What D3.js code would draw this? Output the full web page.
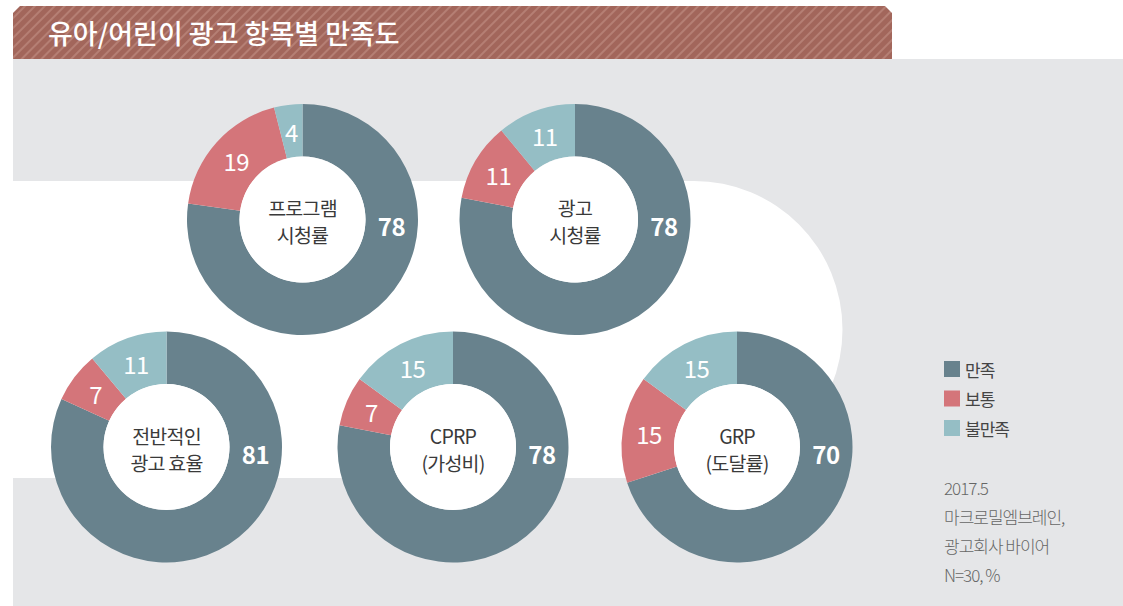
<!DOCTYPE html>
<html>
<head>
<meta charset="utf-8">
<script src="https://cdn.jsdelivr.net/npm/d3@7"></script>
<style>
  html, body { margin: 0; padding: 0; background: #fff; }
  svg { display: block; font-family: "Noto Sans CJK KR", "Noto Sans", sans-serif; }
</style>
</head>
<body>
<div id="chart"></div>
<script>
// data
const chartTitle = "유아/어린이 광고 항목별 만족도";
const categories = ["만족", "보통", "불만족"];
const itemLabels = [["프로그램", "시청률"], ["광고", "시청률"], ["전반적인", "광고 효율"], ["CPRP", "(가성비)"], ["GRP", "(도달률)"]];
const satisfied = [78, 78, 81, 78, 70];
const neutral = [19, 11, 7, 7, 15];
const dissatisfied = [4, 11, 11, 15, 15];
const notes = ["2017.5", "마크로밀엠브레인,", "광고회사 바이어", "N=30, %"];

const colors = ["#68828d", "#d4757a", "#95bec5"];

const width = 1123, height = 606;
const svg = d3.select("#chart").append("svg")
    .attr("width", width)
    .attr("height", height);

// stripe pattern for the title band
const defs = svg.append("defs");
const pat = defs.append("pattern")
    .attr("id", "stripes")
    .attr("patternUnits", "userSpaceOnUse")
    .attr("width", 7)
    .attr("height", 7)
    .attr("patternTransform", "rotate(45)");
pat.append("rect").attr("width", 7).attr("height", 7).attr("fill", "#a2665b");
pat.append("line")
    .attr("x1", 1).attr("y1", 0).attr("x2", 1).attr("y2", 7)
    .attr("stroke", "#c08d82")
    .attr("stroke-width", 1.3);

// gray panel
svg.append("rect")
    .attr("x", 13).attr("y", 59)
    .attr("width", width - 13).attr("height", height - 59)
    .attr("fill", "#e5e6e8");

// white band with rounded right end
svg.append("path")
    .attr("d", "M13,181 H694 A148.5,148.5 0 0 1 694,478 H13 Z")
    .attr("fill", "#fff");

// title band
svg.append("path")
    .attr("d", "M13,13 L20,6 H885 L892,13 V59 H13 Z")
    .attr("fill", "url(#stripes)");
svg.append("text")
    .attr("x", 48).attr("y", 32)
    .attr("dominant-baseline", "central")
    .attr("fill", "#fff")
    .attr("font-size", 27)
    .attr("font-weight", 500)
    .attr("letter-spacing", 0)
    .text(chartTitle);

// donuts
const centers = [[302.5, 219.5], [575, 219.5], [166.5, 447], [453, 447], [737, 447]];
const outerR = 115.5, innerR = 63, labelR = 89;

const pie = d3.pie().sort(null).value(d => d.value);
const arc = d3.arc().innerRadius(innerR).outerRadius(outerR);
const labelArc = d3.arc().innerRadius(labelR).outerRadius(labelR);

itemLabels.forEach((lab, i) => {
    const vals = [satisfied[i], neutral[i], dissatisfied[i]].map((v, k) => ({ key: categories[k], value: v, k }));
    const g = svg.append("g").attr("transform", `translate(${centers[i][0]},${centers[i][1]})`);
    const arcs = pie(vals);

    g.selectAll("path.slice")
        .data(arcs)
        .join("path")
        .attr("class", "slice")
        .attr("d", arc)
        .attr("fill", d => colors[d.data.k]);

    g.append("circle").attr("r", innerR).attr("fill", "#fff");

    g.selectAll("text.val")
        .data(arcs)
        .join("text")
        .attr("class", "val")
        .attr("transform", d => {
            if (d.data.k === 0) return `translate(${labelR},6)`;
            const [x, y] = labelArc.centroid(d);
            return `translate(${x},${y})`;
        })
        .attr("text-anchor", "middle")
        .attr("dominant-baseline", "central")
        .attr("fill", "#fff")
        .attr("font-size", 24)
        .attr("font-weight", d => d.data.k === 0 ? 700 : 400)
        .attr("letter-spacing", -0.5)
        .text(d => d.data.value);

    g.selectAll("text.name")
        .data(lab)
        .join("text")
        .attr("class", "name")
        .attr("y", (d, j) => j === 0 ? -12 : 15)
        .attr("text-anchor", "middle")
        .attr("dominant-baseline", "central")
        .attr("fill", "#3a3a3a")
        .attr("font-size", 19.5)
        .attr("letter-spacing", -0.8)
        .text(d => d);
});

// legend
const legend = svg.append("g").attr("transform", "translate(944,369)");
categories.forEach((c, i) => {
    legend.append("rect")
        .attr("x", 0).attr("y", i * 29.5 - 8)
        .attr("width", 16).attr("height", 16)
        .attr("fill", colors[i]);
    legend.append("text")
        .attr("x", 21).attr("y", i * 29.5)
        .attr("dominant-baseline", "central")
        .attr("fill", "#444")
        .attr("font-size", 17)
        .attr("letter-spacing", -1)
        .text(c);
});

// source notes
svg.append("g")
    .selectAll("text")
    .data(notes)
    .join("text")
    .attr("x", 944)
    .attr("y", (d, i) => 487 + i * 29.3)
    .attr("dominant-baseline", "central")
    .attr("fill", "#666")
    .attr("font-size", 17)
    .attr("font-weight", 300)
    .attr("letter-spacing", -1)
    .text(d => d);
</script>
</body>
</html>
